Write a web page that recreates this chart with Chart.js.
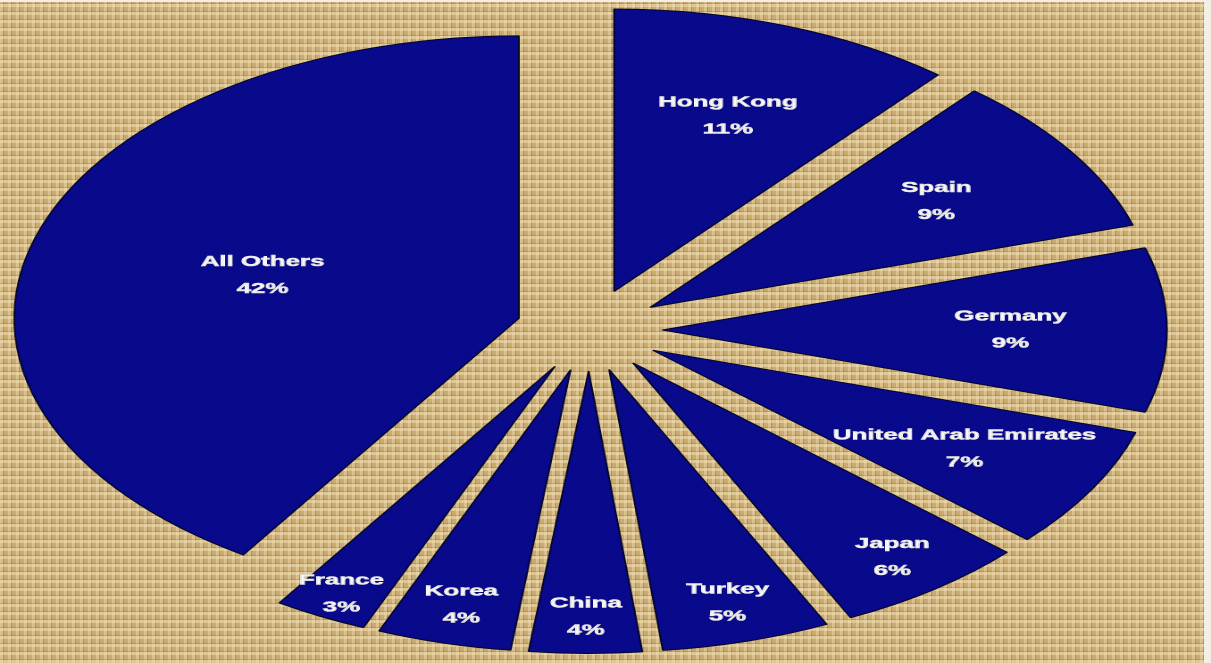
<!DOCTYPE html>
<html>
<head>
<meta charset="utf-8">
<script src="https://cdn.jsdelivr.net/npm/chart.js@4.4.1/dist/chart.umd.min.js"></script>
<style>
  html, body { margin: 0; padding: 0; background: #f3efe4; overflow: hidden; width: 1211px; height: 663px; }
  #bg {
    position: absolute; left: 0; top: 2px; width: 1204px; height: 661px;
    background-color: #c8aa72;
    background-image:
      repeating-linear-gradient(0deg, rgba(245,228,185,0.5) 0px, rgba(245,228,185,0.5) 3px, rgba(135,105,58,0.32) 3px, rgba(135,105,58,0.32) 4px, transparent 4px, transparent 8px),
      repeating-linear-gradient(90deg, rgba(245,228,185,0.4) 0px, rgba(245,228,185,0.4) 3px, rgba(125,95,52,0.32) 3px, rgba(125,95,52,0.32) 4px, transparent 4px, transparent 8px);
  }
  #wrap {
    position: absolute; left: 0; top: 0; width: 678px; height: 663px;
    transform: scaleX(1.78614); transform-origin: 0 0;
  }
</style>
</head>
<body>
<div id="bg"></div>
<div id="wrap"><canvas id="c"></canvas></div>
<script>
// Data
const categories = ['Hong Kong', 'Spain', 'Germany', 'United Arab Emirates', 'Japan', 'Turkey', 'China', 'Korea', 'France', 'All Others'];
const shares = [11.1, 9.2, 9.4, 7.0, 6.2, 5.4, 3.6, 4.3, 3.0, 40.8];
const shareLabels = ['11%', '9%', '9%', '7%', '6%', '5%', '4%', '4%', '3%', '42%'];

// Styling
const EXPLODE = 41;                 // distance each slice is pulled out
const labelRadius = [0.66, 0.68, 0.69, 0.71, 0.86, 0.86, 0.87, 0.86, 0.91, 0.53];

const explodePlugin = {
  id: 'explode',
  beforeDatasetDraw(chart, args) {
    const ctx = chart.ctx;
    args.meta.data.forEach((arc) => {
      const mid = (arc.startAngle + arc.endAngle) / 2;
      ctx.save();
      ctx.translate(Math.cos(mid) * EXPLODE, Math.sin(mid) * EXPLODE);
      arc.draw(ctx, chart.chartArea);
      ctx.restore();
    });
    return false;
  }
};

const labelPlugin = {
  id: 'sliceLabels',
  afterDatasetsDraw(chart) {
    const meta = chart.getDatasetMeta(0);
    const ctx = chart.ctx;
    ctx.save();
    ctx.fillStyle = '#ffffff';
    ctx.strokeStyle = '#ffffff';
    ctx.lineWidth = 0.5;
    ctx.font = 'bold 14.5px "Liberation Sans", Arial, sans-serif';
    ctx.textAlign = 'center';
    ctx.textBaseline = 'middle';
    ctx.shadowColor = 'rgba(0,0,0,0.6)';
    ctx.shadowBlur = 1;
    meta.data.forEach((arc, i) => {
      const mid = (arc.startAngle + arc.endAngle) / 2;
      const d = EXPLODE + labelRadius[i] * arc.outerRadius;
      const x = arc.x + Math.cos(mid) * d;
      const y = arc.y + Math.sin(mid) * d;
      ctx.fillText(categories[i], x, y - 13.5);
      ctx.strokeText(categories[i], x, y - 13.5);
      ctx.fillText(shareLabels[i], x, y + 13.5);
      ctx.strokeText(shareLabels[i], x, y + 13.5);
    });
    ctx.restore();
  }
};

new Chart(document.getElementById('c'), {
  type: 'pie',
  data: {
    labels: categories,
    datasets: [{
      data: shares,
      backgroundColor: '#09098c',
      borderColor: '#05052a',
      borderWidth: 1,
      radius: 282.5
    }]
  },
  options: {
    responsive: true,
    maintainAspectRatio: false,
    animation: false,
    devicePixelRatio: 2,
    events: [],
    layout: { padding: { left: 0, right: 18.4, top: 0, bottom: 3 } },
    plugins: {
      legend: { display: false },
      tooltip: { enabled: false },
      title: { display: false }
    }
  },
  plugins: [explodePlugin, labelPlugin]
});
</script>
</body>
</html>
